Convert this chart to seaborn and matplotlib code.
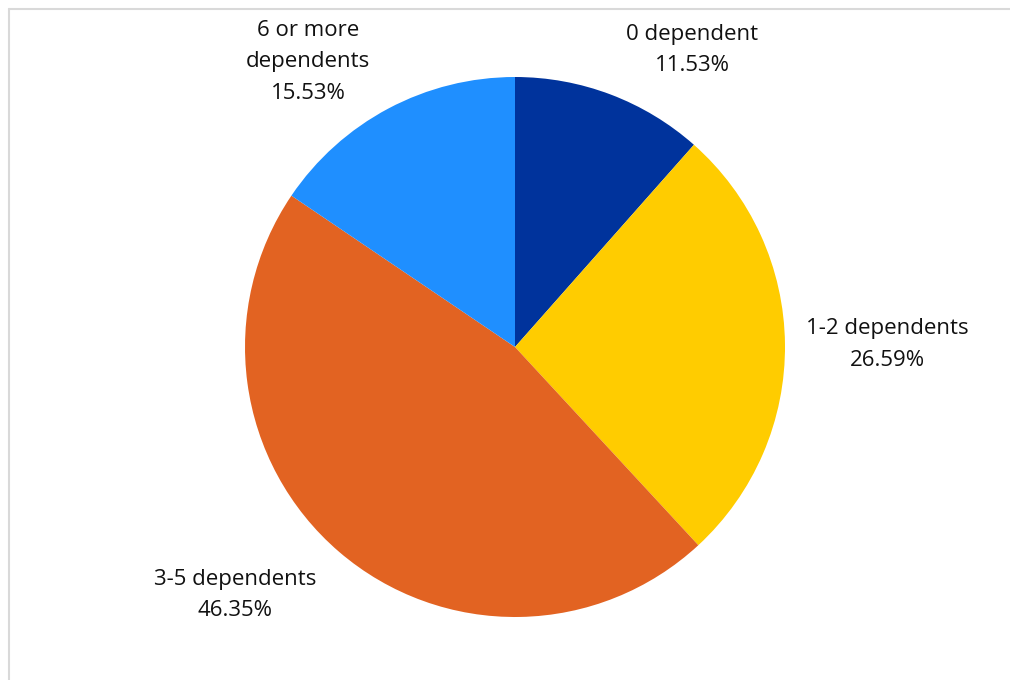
import matplotlib
matplotlib.use("Agg")
import matplotlib.pyplot as plt
import seaborn as sns
from matplotlib.lines import Line2D

categories = ["0 dependent", "1-2 dependents", "3-5 dependents", "6 or more\ndependents"]
values = [11.53, 26.59, 46.35, 15.53]
colors = ["#00339C", "#FFCC00", "#E26322", "#1F8FFF"]
# label anchor positions in radius units (Excel-style outside labels)
label_pos = [(0.656, 1.10), (1.38, 0.01), (-1.037, -0.919), (-0.767, 1.056)]

sns.set_theme(style="white")
plt.rcParams['font.family'] = ['Open Sans', 'DejaVu Sans']

W, H, DPI = 1010, 680, 100
fig = plt.figure(figsize=(W / DPI, H / DPI), dpi=DPI)
ax = fig.add_axes([0, 0, 1, 1])

R = 270.0
cx, cy = 515.0, 347.0
ax.pie(values, colors=colors, startangle=90, counterclock=False,
       radius=1.0, center=(0, 0), wedgeprops=dict(linewidth=0))
ax.set_xlim(-cx / R, (W - cx) / R)
ax.set_ylim(-(H - cy) / R, cy / R)
ax.set_aspect("equal")
ax.axis("off")

for cat, val, (lx, ly) in zip(categories, values, label_pos):
    ax.text(lx, ly, f"{cat}\n{val:.2f}%", ha="center", va="center",
            fontsize=16, color="#111111", linespacing=1.65)

# light frame lines at left and top
fig.add_artist(Line2D([8.5 / W, 8.5 / W], [0, 1 - 8.5 / H], color="#d9d9d9", lw=1.5))
fig.add_artist(Line2D([8.5 / W, 1], [1 - 8.5 / H, 1 - 8.5 / H], color="#d9d9d9", lw=1.5))

fig.savefig("out.png", dpi=DPI)
